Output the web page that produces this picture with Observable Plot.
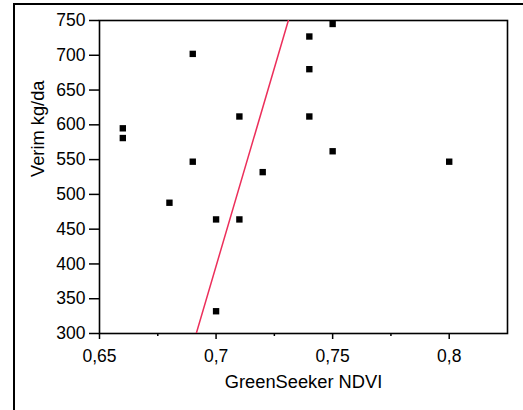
<!DOCTYPE html>
<html>
<head>
<meta charset="utf-8">
<script src="https://cdn.jsdelivr.net/npm/d3@7"></script>
<script src="https://cdn.jsdelivr.net/npm/@observablehq/plot@0.6"></script>
<style>
  html, body { margin: 0; padding: 0; background: #fff; }
  #wrap { position: relative; width: 523px; height: 410px; overflow: hidden; }
  #outer { position: absolute; left: 13px; top: 3px; width: 700px; height: 600px; border: 2px solid #000; box-sizing: border-box; }
  #chart { position: absolute; left: 0; top: 0; }
</style>
</head>
<body>
<div id="wrap"><div id="outer"></div><div id="chart"></div></div>
<script>
const ndvi  = [0.66, 0.66, 0.69, 0.69, 0.68, 0.70, 0.70, 0.71, 0.71, 0.72, 0.74, 0.74, 0.74, 0.75, 0.75, 0.80];
const verim = [595, 581, 702, 547, 488, 464, 332, 612, 464, 532, 727, 680, 612, 745, 562, 547];
const fitX = [0.6915, 0.731];
const fitY = [300, 750];
const xTicks = [0.65, 0.7, 0.75, 0.8];
const xMinorTicks = [0.675, 0.725, 0.775];
const yTicks = [300, 350, 400, 450, 500, 550, 600, 650, 700, 750];
const xTitle = "GreenSeeker NDVI";
const yTitle = "Verim kg/da";

const points = ndvi.map((x, i) => ({x, y: verim[i]}));
const fit = fitX.map((x, i) => ({x, y: fitY[i]}));
const fmt = d => String(d).replace(".", ",");

const chart = Plot.plot({
  width: 523,
  height: 410,
  marginLeft: 99,
  marginRight: 16,
  marginTop: 20,
  marginBottom: 77,
  style: {fontFamily: "'Liberation Sans', Arial, sans-serif", fontSize: "17px", color: "#000", background: "transparent"},
  x: {domain: [0.65, 0.825]},
  y: {domain: [300, 750]},
  marks: [
    Plot.frame({stroke: "#000", strokeWidth: 1.6}),
    Plot.axisX(xMinorTicks, {tickSize: 3, text: null, label: null, strokeWidth: 1.5}),
    Plot.axisX(xTicks, {tickSize: 6, tickPadding: 10, tickFormat: fmt, fontSize: 17.5, strokeWidth: 1.5, label: null}),
    Plot.axisY(yTicks, {tickSize: 10, tickPadding: 4, fontSize: 17.5, strokeWidth: 1.5, label: null}),
    Plot.text([xTitle], {text: d => d, frameAnchor: "bottom", dy: 54, fontSize: 18.3, fill: "#000"}),
    Plot.text([yTitle], {text: d => d, frameAnchor: "left", dx: -61, rotate: -90, fontSize: 18.3, fill: "#000"}),
    Plot.line(fit, {x: "x", y: "y", stroke: "#ec2f5b", strokeWidth: 1.5, clip: true}),
    Plot.dot(points, {x: "x", y: "y", symbol: "square", r: 3.6, fill: "#000", stroke: "none"})
  ]
});
document.getElementById("chart").appendChild(chart);
</script>
</body>
</html>
